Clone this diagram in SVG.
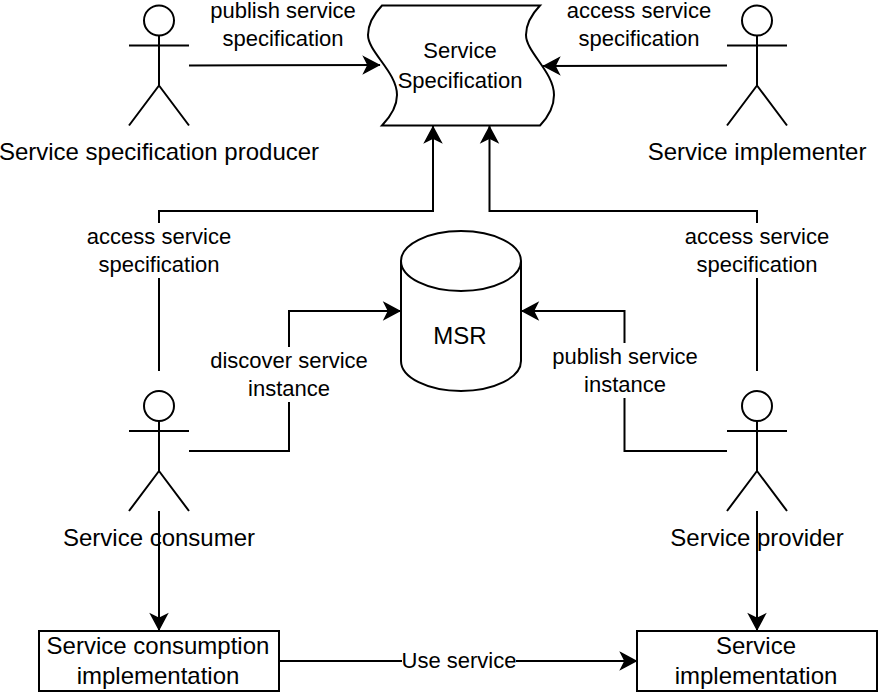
<svg xmlns="http://www.w3.org/2000/svg" width="880" height="694" viewBox="0 0 880 694">
<style>
text{font-family:"Liberation Sans",Arial,sans-serif;fill:#000;text-anchor:middle}
.n{font-size:24px}
.e{font-size:22px}
.s{fill:#fff;stroke:#000;stroke-width:2}
.a{fill:none;stroke:#000;stroke-width:2;stroke-linejoin:miter}
.c{fill:none;stroke:#000;stroke-width:2;marker-end:url(#arrow)}
.l{fill:#fff}
</style>
<defs>
<marker id="arrow" markerUnits="userSpaceOnUse" markerWidth="24" markerHeight="24" viewBox="-20 -12 24 24" refX="0" refY="0" orient="auto">
<path d="M-16 -8 L-1 0 L-16 8 L-12 0 Z" fill="#000" stroke="#000" stroke-width="1.500"/>
</marker>
<g id="actor">
<circle cx="30" cy="15.500" r="15" class="s"/>
<path d="M30 30.500V80.500M0 40.500H60M30 80.500L0 120.500M30 80.500L60 120.500" class="a"/>
</g>
</defs>
<g id="connectors">
<path class="c" d="M189 65.500L380 65"/>
<path class="c" d="M727 65.500L543 66"/>
<path class="c" d="M159 371V211H433V126"/>
<path class="c" d="M757 371V211H489.500V126"/>
<path class="c" d="M189 451H289V311H400.500"/>
<path class="c" d="M727 451H624.500V311H521.500"/>
<path class="c" d="M159 511V630.500"/>
<path class="c" d="M757 511V630.500"/>
<path class="c" d="M279 661H637"/>
<rect class="l" x="85" y="223" width="148" height="55"/>
<text class="e"><tspan x="159" y="244">access service</tspan><tspan x="159" y="272">specification</tspan></text>
<rect class="l" x="683" y="223" width="148" height="55"/>
<text class="e"><tspan x="757" y="244">access service</tspan><tspan x="757" y="272">specification</tspan></text>
<rect class="l" x="208" y="347" width="162" height="55"/>
<text class="e"><tspan x="289" y="368">discover service</tspan><tspan x="289" y="396">instance</tspan></text>
<rect class="l" x="550" y="343" width="150" height="55"/>
<text class="e"><tspan x="625" y="364">publish service</tspan><tspan x="625" y="392">instance</tspan></text>
<rect class="l" x="402" y="650" width="114" height="22"/>
<text class="e" x="459" y="668">Use service</text>
<text class="e"><tspan x="283" y="18">publish service</tspan><tspan x="283" y="46">specification</tspan></text>
<text class="e"><tspan x="639" y="18">access service</tspan><tspan x="639" y="46">specification</tspan></text>
</g>
<g id="spec">
<path class="s" d="M382 5.500H540C530 16 526 26 526 35C526 52 554 72 554 95C554 105 550 115 540 125.500H382C392 115 397 105 397 95C397 72 368 52 368 35C368 26 372 16 382 5.500Z"/>
<text style="font-size:22px"><tspan x="460" y="58">Service</tspan><tspan x="460" y="88">Specification</tspan></text>
</g>
<g id="msr">
<path class="s" d="M401 261A60 30 0 0 1 521 261V361A60 30 0 0 1 401 361Z"/>
<path class="a" d="M401 261A60 30 0 0 0 521 261"/>
<text class="n" x="460" y="344">MSR</text>
</g>
<g id="producer"><use href="#actor" x="129" y="5"/><text class="n" x="159" y="160">Service specification producer</text></g>
<g id="implementer"><use href="#actor" x="727" y="5"/><text class="n" x="757" y="160">Service implementer</text></g>
<g id="consumer"><use href="#actor" x="129" y="390.500"/><text class="n" x="159" y="546">Service consumer</text></g>
<g id="provider"><use href="#actor" x="727" y="390.500"/><text class="n" x="757" y="546">Service provider</text></g>
<g id="consumption">
<rect class="s" x="39" y="631" width="240" height="60"/>
<text class="n"><tspan x="158" y="654">Service consumption</tspan><tspan x="158" y="684">implementation</tspan></text>
</g>
<g id="implementation">
<rect class="s" x="637" y="631" width="240" height="60"/>
<text class="n"><tspan x="756" y="654">Service</tspan><tspan x="756" y="684">implementation</tspan></text>
</g>
</svg>
